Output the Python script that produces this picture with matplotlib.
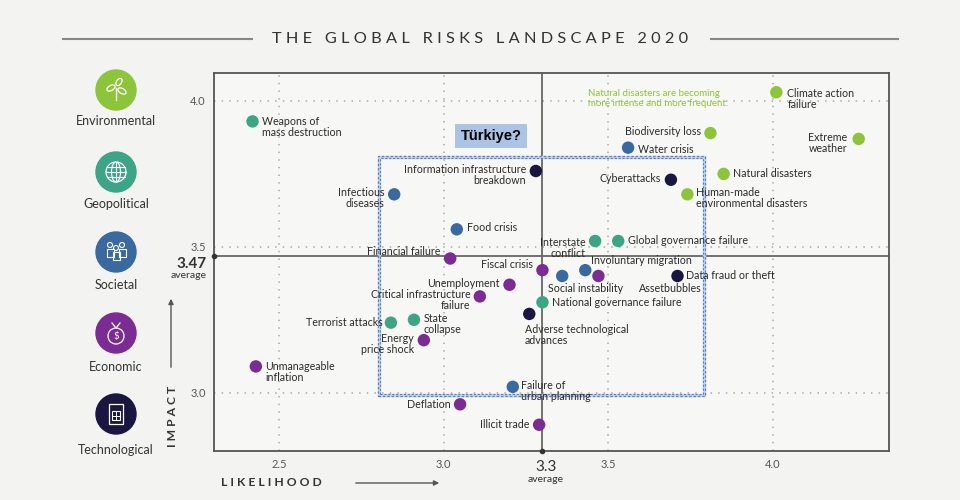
import matplotlib
matplotlib.use("Agg")
import matplotlib.pyplot as plt
from matplotlib.patches import Circle, Rectangle, Ellipse
import numpy as np

plt.rcParams['font.family'] = ['Lato', 'DejaVu Sans']

# ---------------- data ----------------
categories = ["Environmental", "Geopolitical", "Societal", "Economic", "Technological"]
cat_colors = {"Environmental": "#8cc43c", "Geopolitical": "#3da486",
              "Societal": "#3a69a0", "Economic": "#7a2c93", "Technological": "#1a1642"}

risk_names = [
    "Climate action\nfailure", "Extreme\nweather", "Biodiversity loss", "Natural disasters",
    "Human-made\nenvironmental disasters",
    "Weapons of\nmass destruction", "Interstate\nconflict", "Global governance failure",
    "National governance failure", "Terrorist attacks", "State\ncollapse",
    "Water crisis", "Infectious\ndiseases", "Food crisis", "Involuntary migration",
    "Social instability", "Failure of\nurban planning",
    "Financial failure", "Fiscal crisis", "Assetbubbles", "Unemployment",
    "Critical infrastructure\nfailure", "Energy\nprice shock", "Unmanageable\ninflation",
    "Deflation", "Illicit trade",
    "Information infrastructure\nbreakdown", "Cyberattacks", "Data fraud or theft",
    "Adverse technological\nadvances",
]
risk_category = (["Environmental"] * 5 + ["Geopolitical"] * 6 + ["Societal"] * 6 +
                 ["Economic"] * 9 + ["Technological"] * 4)
likelihood = [4.01, 4.26, 3.81, 3.85, 3.74,
              2.42, 3.46, 3.53, 3.30, 2.84, 2.91,
              3.56, 2.85, 3.04, 3.43, 3.36, 3.21,
              3.02, 3.30, 3.47, 3.20, 3.11, 2.94, 2.43, 3.05, 3.29,
              3.28, 3.69, 3.71, 3.26]
impact = [4.03, 3.87, 3.89, 3.75, 3.68,
          3.93, 3.52, 3.52, 3.31, 3.24, 3.25,
          3.84, 3.68, 3.56, 3.42, 3.40, 3.02,
          3.46, 3.42, 3.40, 3.37, 3.33, 3.18, 3.09, 2.96, 2.89,
          3.76, 3.73, 3.40, 3.27]

x_ticks = [2.5, 3.0, 3.5, 4.0]
y_ticks = [3.0, 3.5, 4.0]
avg_likelihood = 3.3
avg_impact = 3.47
focus_region = [2.80, 2.99, 3.793, 3.812]   # x0, y0, x1, y1 of the "Türkiye?" box

# label placement: (dx, dy in points, ha, va)
label_pos = {
    "Climate action\nfailure": (8, 3, "left", "top"),
    "Extreme\nweather": (-8, 5, "right", "top"),
    "Biodiversity loss": (-7, 1, "right", "center"),
    "Natural disasters": (7, 0, "left", "center"),
    "Human-made\nenvironmental disasters": (6, 5, "left", "top"),
    "Weapons of\nmass destruction": (7, 4, "left", "top"),
    "Interstate\nconflict": (-7, 3, "right", "top"),
    "Global governance failure": (7, 0, "left", "center"),
    "National governance failure": (7, 0, "left", "center"),
    "Terrorist attacks": (-6, 0, "right", "center"),
    "State\ncollapse": (7, 5, "left", "top"),
    "Water crisis": (7, -1, "left", "center"),
    "Infectious\ndiseases": (-7, 5, "right", "top"),
    "Food crisis": (7, 1, "left", "center"),
    "Involuntary migration": (4, 7, "left", "center"),
    "Social instability": (-10, -5, "left", "top"),
    "Failure of\nurban planning": (6, 5, "left", "top"),
    "Financial failure": (-7, 5, "right", "center"),
    "Fiscal crisis": (-7, 4, "right", "center"),
    "Assetbubbles": (29, -5, "left", "top"),
    "Unemployment": (-7, 1, "right", "center"),
    "Critical infrastructure\nfailure": (-7, 5, "right", "top"),
    "Energy\nprice shock": (-7, 5, "right", "top"),
    "Unmanageable\ninflation": (7, 4, "left", "top"),
    "Deflation": (-7, 0, "right", "center"),
    "Illicit trade": (-7, 0, "right", "center"),
    "Information infrastructure\nbreakdown": (-7, 5, "right", "top"),
    "Cyberattacks": (-7, 1, "right", "center"),
    "Data fraud or theft": (6, 0, "left", "center"),
    "Adverse technological\nadvances": (-3, -7, "left", "top"),
}


def spaced(s, gap=" ", word_gap="   "):
    return word_gap.join(gap.join(w) for w in s.split(" "))


# ---------------- figure ----------------
BG = "#f3f3f2"
fig = plt.figure(figsize=(9.6, 5.0), dpi=100, facecolor=BG)

ov = fig.add_axes([0, 0, 1, 1], zorder=0)
ov.set_xlim(0, 960)
ov.set_ylim(500, 0)
ov.axis("off")

ax = fig.add_axes([214 / 960, 49 / 500, 675 / 960, 378 / 500], zorder=1)
ax.set_facecolor("#f7f7f6")
ax.set_xlim(2.303, 4.352)
ax.set_ylim(2.80, 4.096)

for s in ax.spines.values():
    s.set_color("#555555")
    s.set_linewidth(1.3)

ax.set_xticks(x_ticks)
ax.set_yticks(y_ticks)
ax.set_xticklabels([f"{v:.1f}" for v in x_ticks])
ax.set_yticklabels([f"{v:.1f}" for v in y_ticks])
ax.tick_params(length=0, labelsize=8, colors="#555555")
ax.tick_params(axis="x", pad=6)
ax.tick_params(axis="y", pad=6)

for v in x_ticks:
    ax.axvline(v, color="#aaaaaa", lw=1.1, ls=(0, (1, 4)), zorder=1)
for v in y_ticks:
    ax.axhline(v, color="#aaaaaa", lw=1.1, ls=(0, (1, 4)), zorder=1)

ax.axvline(avg_likelihood, color="#666666", lw=1.3, zorder=2)
ax.axhline(avg_impact, color="#666666", lw=1.3, zorder=2)
ax.plot([ax.get_xlim()[0]], [avg_impact], "o", ms=3, color="#333333", clip_on=False, zorder=5)
ax.plot([avg_likelihood], [ax.get_ylim()[0]], "o", ms=3, color="#333333", clip_on=False, zorder=5)

# focus box
x0, y0, x1, y1 = focus_region
ins_x = 0.007
ins_y = 0.007
ax.add_patch(Rectangle((x0 + ins_x / 2, y0 + ins_y / 2), x1 - x0 - ins_x, y1 - y0 - ins_y,
                       fill=False, ec="#c6d5ee", lw=2.4, zorder=2))
ax.add_patch(Rectangle((x0, y0), x1 - x0, y1 - y0, fill=False, ec="#5a80c4", lw=0.9,
                       ls=(0, (2, 1.5)), zorder=2.1))
ax.add_patch(Rectangle((x0 + ins_x, y0 + ins_y), x1 - x0 - 2 * ins_x, y1 - y0 - 2 * ins_y,
                       fill=False, ec="#5a80c4", lw=0.8, ls=(0, (2, 1.5)), zorder=2.1))

ax.text(3.144, 3.88, "Türkiye?", fontsize=10.5, fontweight="bold", color="black",
        family=["Liberation Sans", "DejaVu Sans"], ha="center", va="center", zorder=6,
        bbox=dict(boxstyle="square,pad=0.35", fc="#abc4e6", ec="none"))

# points
for name, cat, lx, ly in zip(risk_names, risk_category, likelihood, impact):
    ax.scatter(lx, ly, s=80, color=cat_colors[cat], edgecolors="none", zorder=4)
    dx, dy, ha, va = label_pos[name]
    ax.annotate(name, (lx, ly), xytext=(dx, dy), textcoords="offset points",
                ha=ha, va=va, fontsize=7.7, color="#2a2a2a", zorder=5,
                multialignment=ha, linespacing=1.0)

ax.text(0.554, 0.958, "Natural disasters are becoming\nmore intense and more frequent.",
        transform=ax.transAxes, fontsize=7, color="#8cc43c", ha="left", va="top",
        linespacing=1.15)

# average labels
ov.text(207, 264, "3.47", fontsize=11, fontweight="bold", color="#333333", ha="right", va="center")
ov.text(207, 275, "average", fontsize=7.5, color="#333333", ha="right", va="center")
ov.text(546, 467, "3.3", fontsize=11, color="#333333", ha="center", va="center")
ov.text(546, 479, "average", fontsize=7.5, color="#333333", ha="center", va="center")

# title
ov.text(480, 39, spaced("THE GLOBAL RISKS LANDSCAPE 2020"), fontsize=11.8, color="#333333",
        ha="center", va="center")
ov.plot([63, 252], [39, 39], color="#888888", lw=1.5)
ov.plot([711, 898], [39, 39], color="#888888", lw=1.5)

# axis titles
ov.text(271, 483, spaced("LIKELIHOOD"), fontsize=8.7, color="#333333", ha="center", va="center",
        fontweight="bold")
ov.annotate("", xy=(442, 483), xytext=(353, 483),
            arrowprops=dict(arrowstyle="-|>,head_length=0.3,head_width=0.15", color="#555555", lw=1))
ov.text(172, 416, spaced("IMPACT"), fontsize=8.7, color="#333333", ha="center", va="center",
        rotation=90, fontweight="bold")
ov.annotate("", xy=(171, 296), xytext=(171, 370),
            arrowprops=dict(arrowstyle="-|>,head_length=0.3,head_width=0.15", color="#555555", lw=1))

# legend icons
legend_y = [90, 172, 252, 333, 414]
label_y = [121, 204, 285, 367, 450]
for cat, cy, ly in zip(categories, legend_y, label_y):
    ov.add_patch(Circle((116, cy), 20, color=cat_colors[cat], zorder=2))
    ov.text(116, ly, cat, fontsize=9, color="#333333", ha="center", va="center")

wc = "white"
cy = legend_y[0]
ov.plot([116, 116], [cy + 10, cy - 2], color=wc, lw=0.9, zorder=3)
ov.add_patch(Ellipse((111, cy - 2), 9, 5, angle=-30, fill=False, ec=wc, lw=0.9, zorder=3))
ov.add_patch(Ellipse((122, cy + 1), 9, 5, angle=30, fill=False, ec=wc, lw=0.9, zorder=3))
ov.add_patch(Ellipse((119, cy - 8), 8, 5, angle=-55, fill=False, ec=wc, lw=0.9, zorder=3))
cy = legend_y[1]
ov.add_patch(Circle((116, cy), 10, fill=False, ec=wc, lw=0.9, zorder=3))
ov.add_patch(Ellipse((116, cy), 9, 20, fill=False, ec=wc, lw=0.8, zorder=3))
for dy in (-5, 0, 5):
    hw = np.sqrt(100 - dy * dy)
    ov.plot([116 - hw, 116 + hw], [cy + dy, cy + dy], color=wc, lw=0.8, zorder=3)
ov.plot([116, 116], [cy - 10, cy + 10], color=wc, lw=0.8, zorder=3)
cy = legend_y[2]
for px, py in [(110, cy - 4), (122, cy - 4), (116, cy - 1)]:
    ov.add_patch(Circle((px, py - 3), 2.5, fill=False, ec=wc, lw=0.8, zorder=3))
    ov.add_patch(Rectangle((px - 3.5, py + 1), 7, 8, fill=False, ec=wc, lw=0.8, zorder=3))
cy = legend_y[3]
ov.add_patch(Circle((116, cy + 3), 8, fill=False, ec=wc, lw=0.9, zorder=3))
ov.plot([112, 116, 120], [cy - 10, cy - 5, cy - 10], color=wc, lw=0.9, zorder=3)
ov.text(116, cy + 3.5, "$", fontsize=7, color=wc, ha="center", va="center", zorder=3)
cy = legend_y[4]
ov.add_patch(Rectangle((109, cy - 10), 14, 20, fill=False, ec=wc, lw=0.9, zorder=3))
ov.add_patch(Rectangle((112, cy - 3), 8, 9, fill=False, ec=wc, lw=0.8, zorder=3))
ov.plot([112, 120], [cy + 1.5, cy + 1.5], color=wc, lw=0.7, zorder=3)
ov.plot([116, 116], [cy - 3, cy + 6], color=wc, lw=0.7, zorder=3)

fig.savefig("out.png", dpi=100, facecolor=BG)
